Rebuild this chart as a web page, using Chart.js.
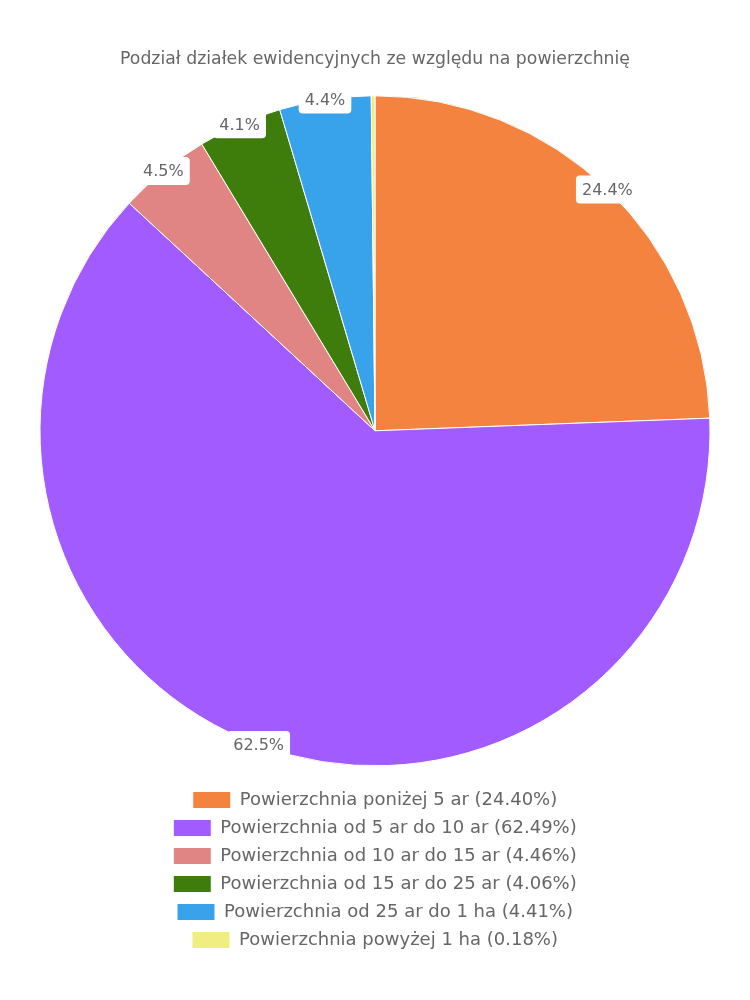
<!DOCTYPE html>
<html>
<head>
<meta charset="utf-8">
<script src="https://cdn.jsdelivr.net/npm/chart.js@4"></script>
<style>
  html, body { margin: 0; padding: 0; background: #fff; }
  #wrap { width: 750px; height: 1000px; }
</style>
</head>
<body>
<div id="wrap"><canvas id="myChart"></canvas></div>
<script>
// Chart data
const categories = [
  'Powierzchnia poniżej 5 ar',
  'Powierzchnia od 5 ar do 10 ar',
  'Powierzchnia od 10 ar do 15 ar',
  'Powierzchnia od 15 ar do 25 ar',
  'Powierzchnia od 25 ar do 1 ha',
  'Powierzchnia powyżej 1 ha'
];
const shares = [24.40, 62.49, 4.46, 4.06, 4.41, 0.18];
const colors = ['#f4833f', '#a15bfe', '#e08484', '#3e7c0c', '#38a2eb', '#f0ee80'];

const legendLabels = categories.map((c, i) => `${c} (${shares[i].toFixed(2)}%)`);

const FONT = '"DejaVu Sans", sans-serif';
const GREY = '#666666';

// Percent labels drawn at the outer edge of each slice
const sliceLabels = {
  id: 'sliceLabels',
  afterDatasetsDraw(chart) {
    const ctx = chart.ctx;
    const meta = chart.getDatasetMeta(0);
    ctx.save();
    ctx.font = '16px ' + FONT;
    ctx.textAlign = 'center';
    ctx.textBaseline = 'middle';
    meta.data.forEach((arc, i) => {
      if (shares[i] < 1) return;
      const {x, y, startAngle, endAngle, outerRadius} = arc.getProps(['x', 'y', 'startAngle', 'endAngle', 'outerRadius'], true);
      const mid = (startAngle + endAngle) / 2;
      const lx = x + Math.cos(mid) * outerRadius;
      const ly = y + Math.sin(mid) * outerRadius;
      const text = shares[i].toFixed(1) + '%';
      const w = ctx.measureText(text).width + 12;
      const h = 28;
      ctx.fillStyle = '#ffffff';
      ctx.beginPath();
      ctx.roundRect(lx - w / 2, ly - h / 2, w, h, 4);
      ctx.fill();
      ctx.fillStyle = GREY;
      ctx.fillText(text, lx, ly + 1);
    });
    ctx.restore();
  }
};

const ctx = document.getElementById('myChart').getContext('2d');
const myChart = new Chart(ctx, {
  type: 'pie',
  data: {
    labels: legendLabels,
    datasets: [{
      data: shares,
      backgroundColor: colors,
      borderColor: '#ffffff',
      borderWidth: 1,
      radius: 335,
      clip: false
    }]
  },
  options: {
    responsive: true,
    maintainAspectRatio: false,
    animation: false,
    // side padding keeps the legend to one item per row
    layout: { padding: { top: 39, bottom: 41, left: 120, right: 120 } },
    plugins: {
      title: {
        display: true,
        text: 'Podział działek ewidencyjnych ze względu na powierzchnię',
        color: GREY,
        font: { family: FONT, size: 18, weight: 'normal' },
        padding: { top: 10, bottom: 10 }
      },
      legend: {
        position: 'bottom',
        labels: {
          color: GREY,
          boxWidth: 38,
          boxHeight: 17,
          padding: 10,
          font: { family: FONT, size: 18 }
        }
      },
      tooltip: { enabled: false }
    }
  },
  plugins: [sliceLabels]
});
</script>
</body>
</html>
